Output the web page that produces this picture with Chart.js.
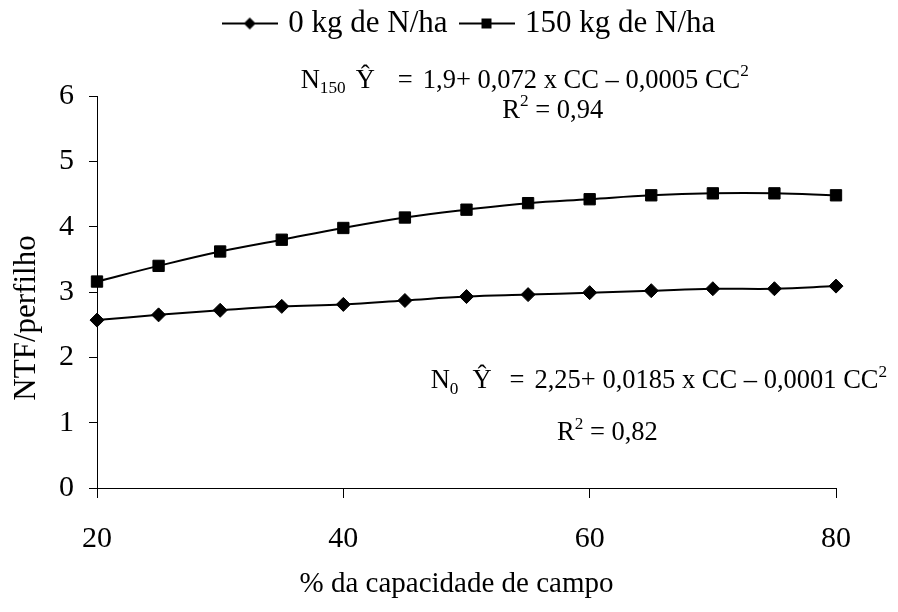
<!DOCTYPE html>
<html lang="pt">
<head>
<meta charset="UTF-8" />
<title>NTF/perfilho</title>
<script src="https://cdn.jsdelivr.net/npm/chart.js"></script>
<style>
  html, body { margin: 0; padding: 0; background: #fff; }
</style>
</head>
<body>
<canvas id="ntfChart" width="898" height="612"></canvas>
<script>
// valores
const capCampo = [20, 25, 30, 35, 40, 45, 50, 55, 60, 65, 70, 75, 80];
const ntfN0 = [2.57, 2.65, 2.72, 2.78, 2.81, 2.87, 2.93, 2.96, 2.99, 3.02, 3.05, 3.05, 3.09];
const ntfN150 = [3.16, 3.40, 3.62, 3.80, 3.98, 4.14, 4.26, 4.36, 4.42, 4.48, 4.51, 4.51, 4.48];
const seriesNames = ['0 kg de N/ha', '150 kg de N/ha'];
const xTitle = '% da capacidade de campo';
const yTitle = 'NTF/perfilho';

const SERIF = '"Liberation Serif", "Times New Roman", serif';

// equações: posição em unidades dos eixos, trechos [texto, tipo, espaço depois em px]
const equations = [
  { x: 36.54, y: 6.13, align: 'left', runs: [['N'], ['150', 'sub', 10], ['Ŷ', null, 23], ['=', null, 10], ['1,9+ 0,072 x CC – 0,0005 CC'], ['2', 'sup']] },
  { x: 57.0, y: 5.67, align: 'center', runs: [['R'], ['2', 'sup'], [' = 0,94']] },
  { x: 47.09, y: 1.53, align: 'left', runs: [['N'], ['0', 'sub', 14], ['Ŷ', null, 18], ['=', null, 10], ['2,25+ 0,0185 x CC – 0,0001 CC'], ['2', 'sup']] },
  { x: 61.44, y: 0.735, align: 'center', runs: [['R'], ['2', 'sup'], [' = 0,82']] }
];

// símbolo da legenda: linha com marcador
function legendSymbol(shape) {
  const c = document.createElement('canvas');
  c.width = 56; c.height = 16;
  const g = c.getContext('2d');
  g.strokeStyle = '#000'; g.fillStyle = '#000'; g.lineWidth = 2;
  g.beginPath(); g.moveTo(0, 8); g.lineTo(56, 8); g.stroke();
  g.beginPath();
  if (shape === 'diamond') {
    g.moveTo(28, 2); g.lineTo(34, 8); g.lineTo(28, 14); g.lineTo(22, 8); g.closePath();
  } else {
    g.rect(23, 3, 10, 10);
  }
  g.fill();
  return c;
}
const legendSymbols = [legendSymbol('diamond'), legendSymbol('square')];

const layoutTweaks = {
  id: 'layoutTweaks',
  afterInit(chart) {
    const fit = chart.legend.fit;
    chart.legend.fit = function () { fit.call(this); this.height = 96; };
  },
  afterLayout(chart) {
    const lg = chart.legend;
    lg.left += 53; lg.right += 53;
    lg.top -= 8; lg.bottom -= 8;
  }
};

const textLayer = {
  id: 'textLayer',
  afterDraw(chart) {
    const ctx = chart.ctx;
    const xs = chart.scales.x, ys = chart.scales.y;
    const area = chart.chartArea;
    const size = 26.5;
    ctx.save();
    ctx.fillStyle = '#000';
    ctx.textBaseline = 'alphabetic';
    ctx.textAlign = 'left';
    equations.forEach(eq => {
      const parts = eq.runs.map(([t, kind, gap]) => {
        const s = kind ? size * 0.65 : size;
        ctx.font = s + 'px ' + SERIF;
        return { t, kind, s, w: ctx.measureText(t).width + (gap || 0) };
      });
      const total = parts.reduce((a, p) => a + p.w, 0);
      let x = xs.getPixelForValue(eq.x);
      if (eq.align === 'center') x -= total / 2;
      const y = ys.getPixelForValue(eq.y);
      parts.forEach(p => {
        ctx.font = p.s + 'px ' + SERIF;
        let dy = 0;
        if (p.kind === 'sub') dy = size * 0.22;
        if (p.kind === 'sup') dy = -size * 0.42;
        ctx.fillText(p.t, x, y + dy);
        x += p.w;
      });
    });

    // títulos dos eixos
    ctx.textAlign = 'center';
    ctx.font = '29px ' + SERIF;
    ctx.fillText(xTitle, (area.left + area.right) / 2 - 10, 592);
    ctx.translate(35, (area.top + area.bottom) / 2 + 26);
    ctx.rotate(-Math.PI / 2);
    ctx.font = '31px ' + SERIF;
    ctx.fillText(yTitle, 0, 0);
    ctx.restore();
  }
};

new Chart(document.getElementById('ntfChart'), {
  type: 'line',
  data: {
    labels: capCampo,
    datasets: [
      {
        label: seriesNames[0],
        data: capCampo.map((x, i) => ({ x, y: ntfN0[i] })),
        borderColor: '#000',
        backgroundColor: '#000',
        borderWidth: 2,
        tension: 0.4,
        pointStyle: 'rectRot',
        pointRadius: 7,
        pointBorderWidth: 1,
        clip: false
      },
      {
        label: seriesNames[1],
        data: capCampo.map((x, i) => ({ x, y: ntfN150[i] })),
        borderColor: '#000',
        backgroundColor: '#000',
        borderWidth: 2,
        tension: 0.4,
        pointStyle: 'rect',
        pointRadius: 8,
        pointBorderWidth: 1,
        clip: false
      }
    ]
  },
  options: {
    responsive: false,
    animation: false,
    devicePixelRatio: 1,
    layout: { padding: { left: 0, right: 62, top: 0, bottom: 0 } },
    plugins: {
      tooltip: { enabled: false },
      legend: {
        display: true,
        position: 'top',
        align: 'center',
        labels: {
          usePointStyle: true,
          pointStyleWidth: 46,
          padding: 16,
          color: '#000',
          font: { family: SERIF, size: 31 },
          generateLabels: chart => seriesNames.map((name, i) => ({
            text: name,
            pointStyle: legendSymbols[i],
            fillStyle: '#000',
            strokeStyle: '#000',
            lineWidth: 0,
            fontColor: '#000',
            hidden: false,
            datasetIndex: i
          }))
        }
      }
    },
    scales: {
      x: {
        type: 'linear',
        min: 20,
        max: 80,
        afterFit: s => { s.height = 124; },
        ticks: { stepSize: 20, color: '#000', padding: 23, font: { family: SERIF, size: 30 } },
        grid: { drawOnChartArea: false, tickLength: 10, color: '#000', lineWidth: 1 },
        border: { color: '#000', width: 1 }
      },
      y: {
        min: 0,
        max: 6,
        afterFit: s => { s.width = 97; },
        ticks: { stepSize: 1, color: '#000', padding: 15, font: { family: SERIF, size: 30 } },
        grid: { drawOnChartArea: false, tickLength: 8, color: '#000', lineWidth: 1 },
        border: { color: '#000', width: 1 }
      }
    }
  },
  plugins: [layoutTweaks, textLayer]
});
</script>
</body>
</html>
